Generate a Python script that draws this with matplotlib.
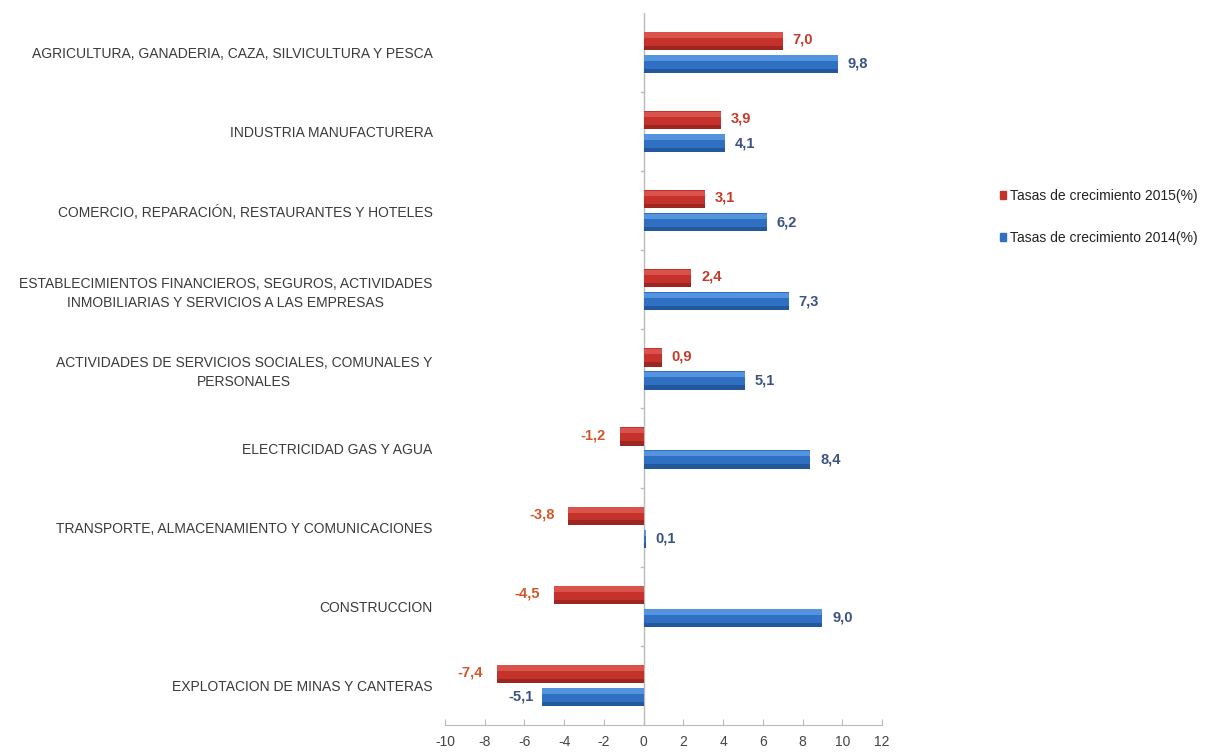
import numpy as np
import matplotlib.pyplot as plt

sectores = [
    "AGRICULTURA, GANADERIA, CAZA, SILVICULTURA Y PESCA",
    "INDUSTRIA MANUFACTURERA",
    "COMERCIO, REPARACIÓN, RESTAURANTES Y HOTELES",
    "ESTABLECIMIENTOS FINANCIEROS, SEGUROS, ACTIVIDADES\nINMOBILIARIAS Y SERVICIOS A LAS EMPRESAS",
    "ACTIVIDADES DE SERVICIOS SOCIALES, COMUNALES Y\nPERSONALES",
    "ELECTRICIDAD GAS Y AGUA",
    "TRANSPORTE, ALMACENAMIENTO Y COMUNICACIONES",
    "CONSTRUCCION",
    "EXPLOTACION DE MINAS Y CANTERAS",
]
tasas_2015 = [7.0, 3.9, 3.1, 2.4, 0.9, -1.2, -3.8, -4.5, -7.4]
tasas_2014 = [9.8, 4.1, 6.2, 7.3, 5.1, 8.4, 0.1, 9.0, -5.1]
xticks = list(range(-10, 13, 2))

plt.rcParams["font.family"] = ["Liberation Sans", "DejaVu Sans"]

fig = plt.figure(figsize=(12.07, 7.56), dpi=100)
ax = fig.add_axes([0.3687, 0.041, 0.3620, 0.942])

n = len(sectores)
y = np.arange(n)
h = 0.23
red, red_hi, red_lo = "#c4322b", "#e2605a", "#8e211c"
blue, blue_hi, blue_lo = "#2f70c2", "#64a4ea", "#1f4f8e"

y15 = y - 0.145
y14 = y + 0.145
# base bar, light top band, dark bottom band
for yy, vals, c, hi, lo in [(y15, tasas_2015, red, red_hi, red_lo),
                            (y14, tasas_2014, blue, blue_hi, blue_lo)]:
    ax.barh(yy, vals, height=h, color=c, zorder=2, lw=0)
    ax.barh(yy - h * 0.32, vals, height=h * 0.3, color=hi, alpha=0.7, zorder=3, lw=0)
    ax.barh(yy + h * 0.38, vals, height=h * 0.24, color=lo, alpha=0.7, zorder=3, lw=0)


def fmt(v):
    return f"{v:.1f}".replace(".", ",")


for yy, v in zip(y15, tasas_2015):
    c = "#c43a2a" if v >= 0 else "#d4552a"
    ax.annotate(fmt(v), (v, yy), xytext=(7 if v >= 0 else -10, 1), textcoords="offset points",
                ha="left" if v >= 0 else "right", va="center", fontsize=10.5,
                fontweight="bold", color=c)
for yy, v in zip(y14, tasas_2014):
    ax.annotate(fmt(v), (v, yy), xytext=(7 if v >= 0 else -6, 0), textcoords="offset points",
                ha="left" if v >= 0 else "right", va="center", fontsize=10.5,
                fontweight="bold", color="#3c5282")

ax.set_xlim(-10, 12)
ax.set_ylim(n - 0.5, -0.5)
ax.set_xticks(xticks)
ax.set_xticklabels([str(t) for t in xticks], fontsize=10, color="#444444")
ax.tick_params(axis="x", direction="in", length=4, color="#bbbbbb", pad=7)

ax.set_yticks(y)
ax.set_yticklabels(sectores, fontsize=10, color="#3a3a3a", ha="right",
                   multialignment="center", linespacing=1.45)
ax.tick_params(axis="y", length=0, pad=9)

for s in ["top", "right", "left"]:
    ax.spines[s].set_visible(False)
ax.spines["bottom"].set_color("#bbbbbb")
ax.axvline(0, color="#bbbbbb", lw=1, zorder=1)
for b in np.arange(0.5, n - 1, 1.0):
    ax.plot([-0.12, 0], [b, b], color="#bbbbbb", lw=1, clip_on=False)

handles = [plt.Rectangle((0, 0), 1, 1, color=red), plt.Rectangle((0, 0), 1, 1, color=blue)]
fig.legend(handles, ["Tasas de crecimiento 2015(%)", "Tasas de crecimiento 2014(%)"],
           loc="center right", bbox_to_anchor=(0.999, 0.713), frameon=False, fontsize=10,
           handlelength=0.45, handleheight=0.45, handletextpad=0.25, labelspacing=2.0,
           labelcolor="#222222", borderaxespad=0.2)

fig.savefig("out.png", dpi=100)
